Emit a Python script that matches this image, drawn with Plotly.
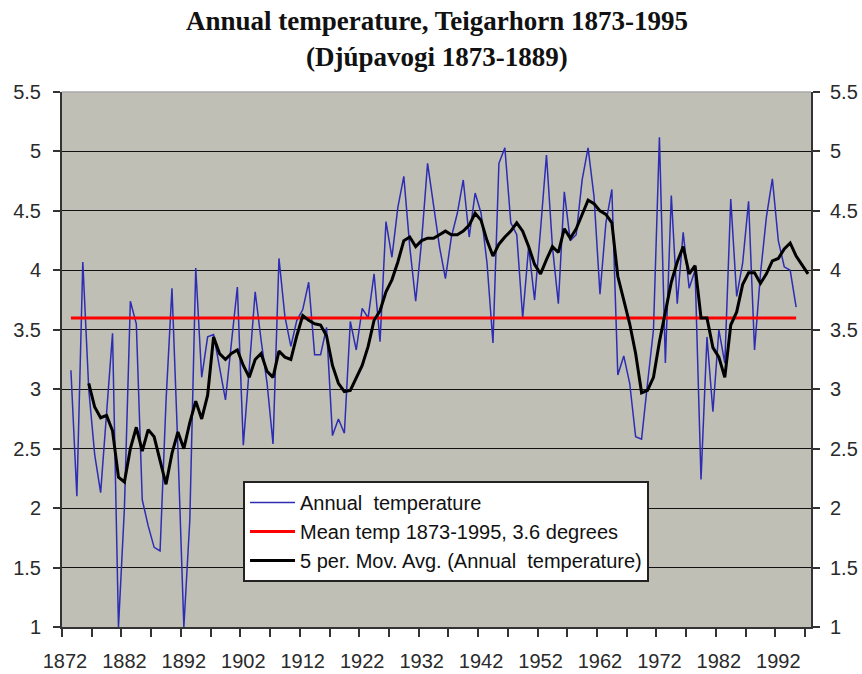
import plotly.graph_objects as go

# ---- data ----
first_year = 1873
annual_temp = [
    3.16, 2.10, 4.07, 3.00, 2.45, 2.13, 2.80, 3.47, 1.00, 2.00,   # 1873-1882
    3.74, 3.55, 2.07, 1.85, 1.67, 1.64, 2.90, 3.85, 2.50, 1.00,   # 1883-1892
    1.90, 4.02, 3.10, 3.44, 3.46, 3.19, 2.91, 3.39, 3.86, 2.53,   # 1893-1902
    3.19, 3.82, 3.41, 3.05, 2.54, 4.10, 3.61, 3.36, 3.58, 3.67,   # 1903-1912
    3.90, 3.29, 3.29, 3.52, 2.61, 2.75, 2.63, 3.57, 3.33, 3.68,   # 1913-1922
    3.60, 3.97, 3.40, 4.41, 4.11, 4.53, 4.79, 4.20, 3.74, 4.25,   # 1923-1932
    4.90, 4.53, 4.20, 3.93, 4.28, 4.48, 4.76, 4.28, 4.65, 4.48,   # 1933-1942
    4.06, 3.39, 4.90, 5.03, 4.40, 4.30, 3.60, 4.20, 3.75, 4.34,   # 1943-1952
    4.97, 4.20, 3.72, 4.66, 4.25, 4.30, 4.76, 5.03, 4.62, 3.80,   # 1953-1962
    4.40, 4.68, 3.12, 3.28, 3.05, 2.60, 2.58, 3.05, 3.50, 5.12,   # 1963-1972
    3.22, 4.63, 3.72, 4.32, 3.85, 4.00, 2.24, 3.44, 2.81, 3.50,   # 1973-1982
    3.22, 4.60, 3.78, 4.06, 4.58, 3.33, 3.97, 4.45, 4.77, 4.25,   # 1983-1992
    4.03, 4.00, 3.69,                                             # 1993-1995
]
years = list(range(first_year, first_year + len(annual_temp)))

mean_temp = 3.6
mean_years = [1873, 1995]

# 5-period moving average as drawn in the reference (Excel trendline)
ma_first_year = 1876
ma_values = [
    3.05, 2.85, 2.76, 2.78, 2.65, 2.26, 2.22, 2.50, 2.68, 2.48,   # 1876-1885
    2.66, 2.60, 2.40, 2.20, 2.46, 2.64, 2.50, 2.72, 2.90, 2.75,   # 1886-1895
    2.95, 3.44, 3.30, 3.25, 3.30, 3.33, 3.20, 3.10, 3.25, 3.30,   # 1896-1905
    3.15, 3.10, 3.32, 3.27, 3.25, 3.45, 3.62, 3.58, 3.55, 3.54,   # 1906-1915
    3.45, 3.20, 3.05, 2.98, 2.99, 3.10, 3.20, 3.36, 3.58, 3.66,   # 1916-1925
    3.82, 3.92, 4.07, 4.25, 4.28, 4.20, 4.25, 4.27, 4.27, 4.30,   # 1926-1935
    4.33, 4.30, 4.30, 4.33, 4.38, 4.48, 4.42, 4.25, 4.12, 4.22,   # 1936-1945
    4.28, 4.33, 4.40, 4.33, 4.20, 4.05, 3.97, 4.09, 4.20, 4.15,   # 1946-1955
    4.35, 4.27, 4.35, 4.47, 4.59, 4.56, 4.50, 4.47, 4.40, 3.95,   # 1956-1965
    3.75, 3.55, 3.30, 2.97, 2.99, 3.10, 3.40, 3.64, 3.90, 4.07,   # 1966-1975
    4.20, 3.97, 4.04, 3.60, 3.60, 3.35, 3.27, 3.10, 3.54, 3.65,   # 1976-1985
    3.88, 3.98, 3.98, 3.89, 3.97, 4.08, 4.10, 4.18, 4.23, 4.12,   # 1986-1995
    4.04, 3.97,                                                   # 1996-1997
]
ma_years = list(range(ma_first_year, ma_first_year + len(ma_values)))

x_label_years = list(range(1872, 1993, 10))
x_labels = [str(y) for y in x_label_years]
y_ticks = [1, 1.5, 2, 2.5, 3, 3.5, 4, 4.5, 5, 5.5]
y_ticktext = ["1", "1.5", "2", "2.5", "3", "3.5", "4", "4.5", "5", "5.5"]
x_minor_ticks = [1871.5 + 5 * k for k in range(26)]

fig = go.Figure()
fig.add_trace(go.Scatter(
    x=years, y=annual_temp, mode="lines", name="Annual  temperature",
    legendgroup="a", line=dict(color="#2d2db4", width=1.5)))
fig.add_trace(go.Scatter(
    x=mean_years, y=[mean_temp] * len(mean_years), mode="lines",
    name="Mean temp 1873-1995, 3.6 degrees", legendgroup="b",
    line=dict(color="#ff0000", width=3)))
fig.add_trace(go.Scatter(
    x=ma_years, y=ma_values, mode="lines",
    name="5 per. Mov. Avg. (Annual  temperature)", legendgroup="c",
    line=dict(color="#000000", width=3)))
# invisible trace to carry the right-hand axis
fig.add_trace(go.Scatter(x=[years[0]], y=[mean_temp], yaxis="y2",
                         mode="markers", marker=dict(opacity=0),
                         showlegend=False, hoverinfo="skip"))

tick_font = dict(family="Liberation Sans, Arial", size=20, color="#2a2a2a")
title_font = dict(family="Liberation Serif, Times New Roman", size=27, color="#111")

fig.update_layout(
    width=862, height=674,
    margin=dict(l=62, r=51, t=92, b=47, autoexpand=False),
    paper_bgcolor="white",
    plot_bgcolor="#bfbfb6",
    xaxis=dict(
        range=[1871.5, 1997.5], showgrid=False, zeroline=False, automargin=False,
        tickvals=x_label_years, ticktext=x_labels,
        ticks="", ticklabelstandoff=15,
        minor=dict(tickvals=x_minor_ticks, ticks="outside",
                   ticklen=8, tickwidth=1.5, tickcolor="#333", showgrid=False),
        showline=True, linecolor="#333", linewidth=2,
        tickfont=tick_font),
    yaxis=dict(
        range=[1, 5.5], tickvals=y_ticks, ticktext=y_ticktext, automargin=False,
        showgrid=True, gridcolor="#111", gridwidth=1.3, zeroline=False,
        ticks="outside", ticklen=7, tickcolor="#333", tickwidth=1.5,
        ticklabelstandoff=8,
        showline=True, linecolor="#333", linewidth=2,
        tickfont=tick_font),
    yaxis2=dict(
        range=[1, 5.5], tickvals=y_ticks, ticktext=y_ticktext, automargin=False,
        overlaying="y", side="right", showgrid=False, zeroline=False,
        ticks="outside", ticklen=7, tickcolor="#333", tickwidth=1.5,
        ticklabelstandoff=6,
        showline=True, linecolor="#333", linewidth=2,
        tickfont=tick_font),
    legend=dict(
        x=0.2417, y=0.273, xanchor="left", yanchor="top",
        bgcolor="white", bordercolor="#222", borderwidth=2,
        font=dict(family="Liberation Sans, Arial", size=20, color="#111"),
        tracegroupgap=5, itemwidth=45, traceorder="normal"),
    showlegend=True,
    annotations=[
        dict(text="<b>Annual temperature, Teigarhorn 1873-1995</b>",
             xref="paper", yref="paper", x=0.5, y=1.1327, xanchor="center",
             yanchor="middle", showarrow=False, font=title_font),
        dict(text="<b>(Djúpavogi 1873-1889)</b>",
             xref="paper", yref="paper", x=0.5, y=1.0654, xanchor="center",
             yanchor="middle", showarrow=False, font=title_font),
    ],
    shapes=[dict(type="line", xref="paper", yref="paper", x0=0, x1=1, y0=1, y1=1,
                 line=dict(color="#a8a8a8", width=1.5), layer="above")],
)

# remove the browser's default page margin so the figure sits at the window's corner
fig.write_html("out.html",
               config={"displayModeBar": False},
               post_script="document.body.style.margin='0px';document.body.style.overflow='hidden';")
